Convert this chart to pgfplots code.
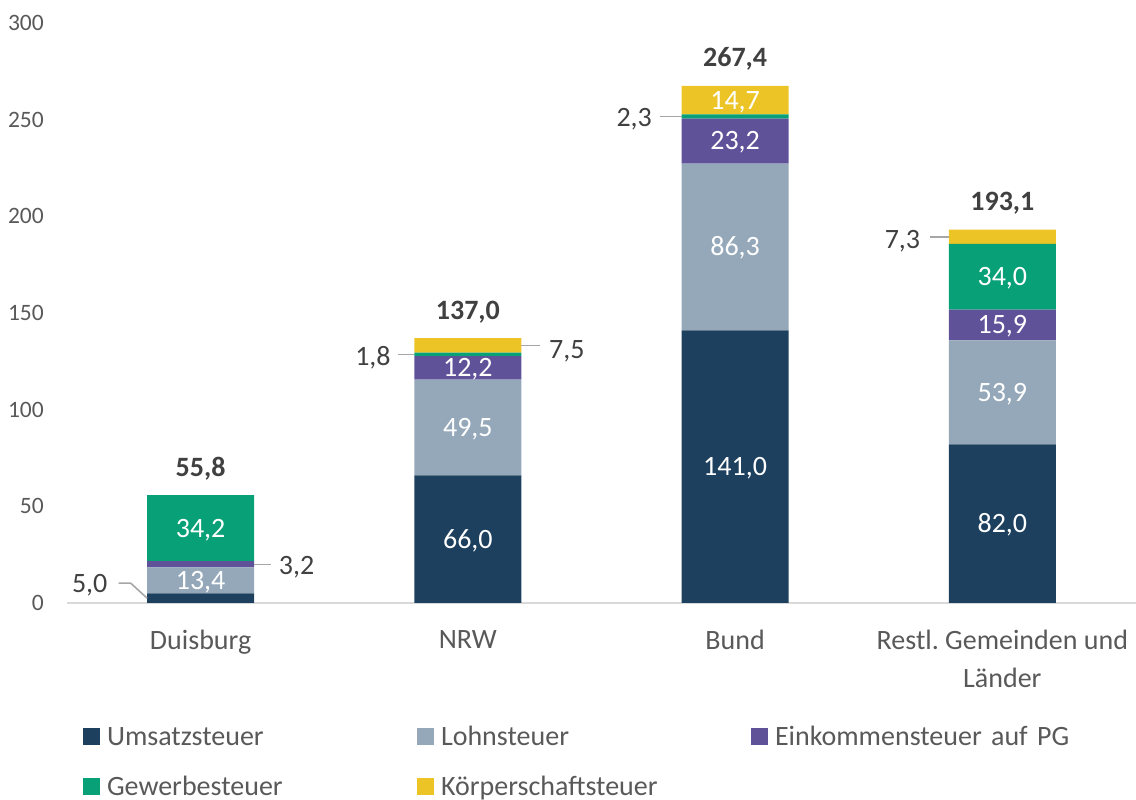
\documentclass[border=0pt]{standalone}
\usepackage{pgfplots}
\pgfplotsset{compat=1.18}
\usepackage{fontspec}
\setmainfont{Carlito}
\newfontfamily\tickfont{Carlito}
\definecolor{cU}{HTML}{1C405E}
\definecolor{cL}{HTML}{94A8BA}
\definecolor{cE}{HTML}{605299}
\definecolor{cG}{HTML}{08A077}
\definecolor{cK}{HTML}{ECC425}
\definecolor{txt}{HTML}{404040}
\definecolor{tickc}{HTML}{595959}
\definecolor{lead}{HTML}{A6A6A6}
\definecolor{axl}{HTML}{D9D9D9}
\newcommand\fs{\fontsize{28}{33}\selectfont}
\newcommand\ts{\fontsize{23.5}{27}\selectfont}
\tikzset{lab/.style={inner sep=0pt, text height=18pt, text depth=0pt, font=\fs}}
\begin{document}
\begin{tikzpicture}
\useasboundingbox (-67pt,-197pt) rectangle (1069pt,603pt);
\begin{axis}[
  at={(0pt,0pt)}, anchor=south west,
  scale only axis, width=1069pt, height=580pt,
  ybar stacked, bar width=107pt,
  xmin=-0.5, xmax=3.5, ymin=0, ymax=300,
  xtick=data,
  xticklabels={Duisburg,NRW,Bund,{Restl.\ Gemeinden und\\Länder}},
  ytick={0,50,100,150,200,250,300},
  axis x line=bottom, axis y line=left,
  x axis line style={draw=axl, line width=1.3pt, -},
  y axis line style={draw=none},
  major tick length=0pt,
  tick style={draw=none},
  xticklabel style={anchor=north, inner sep=0pt, yshift=-27pt, align=center, font=\fontsize{28}{38}\selectfont, text=tickc},
  yticklabel style={anchor=east, inner sep=0pt, xshift=-23pt, font=\tickfont\ts, text=tickc},
  /pgf/number format/assume math mode=true,
  clip=false,
  legend columns=3,
  legend cell align=left,
  legend style={draw=none, fill=none, inner sep=0pt, outer sep=0pt,
    at={(0.0150,-0.2140)}, anchor=north west,
    row sep=32pt, column sep=0pt,
    nodes={inner sep=0pt, text height=18pt, text depth=0pt, text width=310pt, align=left, font=\fs, text=tickc},
    /tikz/every odd column/.append style={column sep=7pt}},
  legend image code/.code={\fill[#1] (0pt,-8.5pt) rectangle (17pt,8.5pt);},
]
\addplot[fill=cU, draw=none] coordinates {(0,5.0) (1,66.0) (2,141.0) (3,82.0)};
\addplot[fill=cL, draw=none] coordinates {(0,13.4) (1,49.5) (2,86.3) (3,53.9)};
\addplot[fill=cE, draw=none] coordinates {(0,3.2) (1,12.2) (2,23.2) (3,15.9)};
\addplot[fill=cG, draw=none] coordinates {(0,34.2) (1,1.8) (2,2.3) (3,34.0)};
\addplot[fill=cK, draw=none] coordinates {(0,0) (1,7.5) (2,14.7) (3,7.3)};
\legend{Umsatzsteuer,Lohnsteuer,Einkommensteuer auf PG,Gewerbesteuer,Körperschaftsteuer}
% anchor points for labels (segment centres and totals)
\coordinate (i1) at (axis cs:0,11.7);
\coordinate (i2) at (axis cs:0,38.7);
\coordinate (i3) at (axis cs:1,33);
\coordinate (i4) at (axis cs:1,90.75);
\coordinate (i5) at (axis cs:1,121.6);
\coordinate (i6) at (axis cs:2,70.5);
\coordinate (i7) at (axis cs:2,184.15);
\coordinate (i8) at (axis cs:2,239.1);
\coordinate (i9) at (axis cs:2,260.15);
\coordinate (i10) at (axis cs:3,41);
\coordinate (i11) at (axis cs:3,108.95);
\coordinate (i12) at (axis cs:3,143.85);
\coordinate (i13) at (axis cs:3,168.8);
\coordinate (t1) at (axis cs:0,55.8);
\coordinate (t2) at (axis cs:1,137.0);
\coordinate (t3) at (axis cs:2,267.5);
\coordinate (t4) at (axis cs:3,193.1);
\coordinate (o1) at (axis cs:0,10.3);
\coordinate (o1b) at (axis cs:0,2.5);
\coordinate (o2) at (axis cs:0,19.6);
\coordinate (o2b) at (axis cs:0,20);
\coordinate (o3) at (axis cs:1,127.3);
\coordinate (o3b) at (axis cs:1,128.6);
\coordinate (o4) at (axis cs:1,130.9);
\coordinate (o4b) at (axis cs:1,133.25);
\coordinate (o5) at (axis cs:2,250.9);
\coordinate (o5b) at (axis cs:2,251.65);
\coordinate (o6) at (axis cs:3,187.8);
\coordinate (o6b) at (axis cs:3,189.45);
\end{axis}
% inside labels
\node[lab, text=white] at (i1) {13,4};
\node[lab, text=white] at (i2) {34,2};
\node[lab, text=white] at (i3) {66,0};
\node[lab, text=white] at (i4) {49,5};
\node[lab, text=white] at (i5) {12,2};
\node[lab, text=white] at (i6) {141,0};
\node[lab, text=white] at (i7) {86,3};
\node[lab, text=white] at (i8) {23,2};
\node[lab, text=white] at (i9) {14,7};
\node[lab, text=white] at (i10) {82,0};
\node[lab, text=white] at (i11) {53,9};
\node[lab, text=white] at (i12) {15,9};
\node[lab, text=white] at (i13) {34,0};
% totals
\node[lab, text=txt, font=\fs\bfseries, yshift=28pt] at (t1) {55,8};
\node[lab, text=txt, font=\fs\bfseries, yshift=28pt] at (t2) {137,0};
\node[lab, text=txt, font=\fs\bfseries, yshift=28pt] at (t3) {267,4};
\node[lab, text=txt, font=\fs\bfseries, yshift=28pt] at (t4) {193,1};
% outside labels with leader lines
\node[lab, text=txt, anchor=east, xshift=-93pt] at (o1) {5,0};
\draw[lead, line width=1.6pt] ([xshift=-82pt]o1) -- ([xshift=-70pt]o1) -- ([xshift=-53.5pt]o1b);
\node[lab, text=txt, anchor=west, xshift=78pt] at (o2) {3,2};
\draw[lead, line width=1.6pt] ([xshift=53.5pt]o2b) -- ([xshift=70pt]o2b);
\node[lab, text=txt, anchor=east, xshift=-77pt] at (o3) {1,8};
\draw[lead, line width=1.6pt] ([xshift=-70pt]o3b) -- ([xshift=-53.5pt]o3b);
\node[lab, text=txt, anchor=west, xshift=81pt] at (o4) {7,5};
\draw[lead, line width=1.6pt] ([xshift=53.5pt]o4b) -- ([xshift=72pt]o4b);
\node[lab, text=txt, anchor=east, xshift=-83pt] at (o5) {2,3};
\draw[lead, line width=1.6pt] ([xshift=-75pt]o5b) -- ([xshift=-53.5pt]o5b);
\node[lab, text=txt, anchor=east, xshift=-82pt] at (o6) {7,3};
\draw[lead, line width=1.6pt] ([xshift=-72pt]o6b) -- ([xshift=-53.5pt]o6b);
\end{tikzpicture}
\end{document}
